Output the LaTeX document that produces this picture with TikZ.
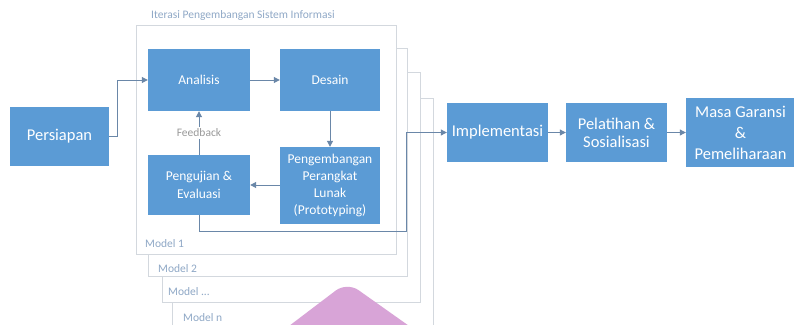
\documentclass[tikz,border=0pt]{standalone}
\usepackage{fontspec}
\setmainfont{Carlito}
\usetikzlibrary{arrows.meta}
\definecolor{boxblue}{HTML}{5B9BD5}
\definecolor{linkc}{HTML}{6A87A8}
\definecolor{framec}{HTML}{D3D8DE}
\definecolor{labelc}{HTML}{8FA8C6}
\definecolor{pinkc}{HTML}{D8A4D7}
\tikzset{
  box/.style={fill=boxblue, draw=none, text=white, align=center, inner sep=2pt},
  outerbox/.style={box, font=\fontsize{16.5}{20}\selectfont},
  innerbox/.style={box, font=\fontsize{13.5}{17.5}\selectfont},
  frame/.style={draw=framec, fill=white, line width=0.9pt},
  flabel/.style={text=labelc, font=\fontsize{11.5}{13}\selectfont, anchor=west, inner sep=0pt},
  link/.style={draw=linkc, line width=1pt, -{Triangle[length=6pt,width=6pt]}},
}
\begin{document}
\begin{tikzpicture}[x=1pt,y=-1pt]
\useasboundingbox (0,0) rectangle (794,324);
\clip (0,0) rectangle (794,324);
% stacked model frames (back to front)
\draw[frame] (172,98) rectangle (433,360);
\draw[frame] (162,72) rectangle (420,302);
\draw[frame] (148,48) rectangle (407,276);
\draw[frame] (136,25) rectangle (396,254);
\node[flabel] (mn) at (183,318) {Model n};
\node[flabel] (md) at (168,292) {Model ...};
\node[flabel] (m2) at (158,269) {Model 2};
\node[flabel] (m1) at (145,244) {Model 1};
\node[flabel] (title) at (151,15) {Iterasi Pengembangan Sistem Informasi};
% pink triangle
\fill[pinkc, rounded corners=14pt] (264,345) -- (347,282) -- (436,345) -- cycle;
% boxes
\node[outerbox, minimum width=99pt, minimum height=59pt] (pers) at (59.5,136.5) {Persiapan};
\node[innerbox, minimum width=102pt, minimum height=62pt] (anal) at (199,80) {Analisis};
\node[innerbox, minimum width=100pt, minimum height=62pt] (des) at (330,80) {Desain};
\node[innerbox, minimum width=102pt, minimum height=60pt] (uji) at (199,185) {Pengujian \&\\Evaluasi};
\node[innerbox, minimum width=100pt, minimum height=77pt, font=\fontsize{13.5}{17}\selectfont] (peng) at (330,185.5) {Pengembangan\\Perangkat\\Lunak\\(Prototyping)};
\node[outerbox, minimum width=101pt, minimum height=59pt] (impl) at (497.5,132.5) {Implementasi};
\node[outerbox, minimum width=101pt, minimum height=59pt, font=\fontsize{16.5}{18}\selectfont] (pel) at (616.5,132.5) {Pelatihan \&\\Sosialisasi};
\node[outerbox, minimum width=109pt, minimum height=69pt, font=\fontsize{16.5}{21}\selectfont] (masa) at (740.5,132.5) {Masa Garansi\\\&\\Pemeliharaan};
% connectors
\coordinate (c1) at (117,136.5);
\coordinate (c2) at (117,80);
\draw[link] (pers.east |- c1) -- (c1) -- (c2) -- (anal.west);
\draw[link] (anal) -- (des);
\draw[link] (des) -- (peng);
\draw[link] (peng.west |- uji) -- (uji.east);
\draw[link] (uji) -- (anal) node[pos=0.5, fill=white, text=gray!80, font=\fontsize{11.5}{13}\selectfont, inner sep=1.5pt] (fb) {Feedback};
\coordinate (d1) at (199,231);
\coordinate (d2) at (406,231);
\coordinate (d3) at (406,132.5);
\draw[link] (uji.south) -- (d1) -- (d2) -- (d3) -- (impl.west);
\draw[link] (impl) -- (pel);
\draw[link] (pel) -- (masa);
\end{tikzpicture}
\end{document}
